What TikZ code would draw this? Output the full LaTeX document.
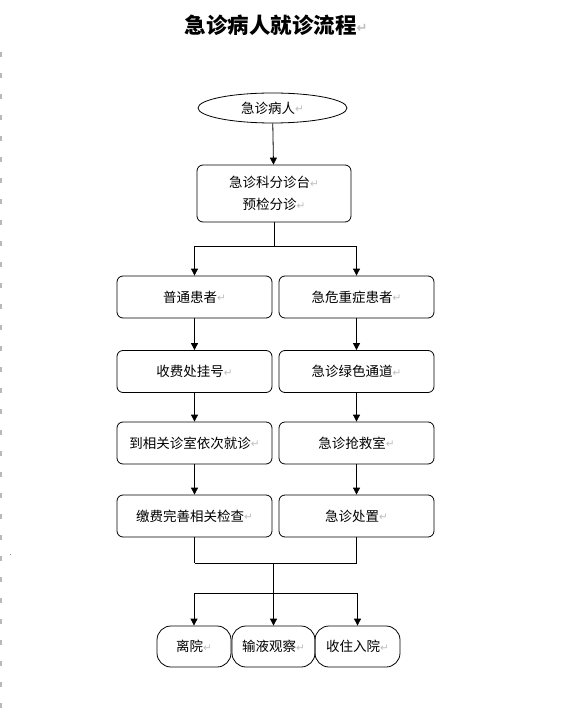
\documentclass[tikz,border=0pt]{standalone}
\usepackage{fontspec}
\newfontfamily\cjk{Noto Sans CJK SC}
\newfontfamily\symfont{DejaVu Sans}
\usetikzlibrary{arrows.meta,shapes.geometric}
\newcommand{\pmark}{\raisebox{0.5pt}{\symfont\fontsize{10.5}{10.5}\selectfont\color{gray!50}↵}}
\newcommand{\tmark}{\raisebox{1pt}{\symfont\fontsize{13}{13}\selectfont\color{gray!50}↵}}
\begin{document}
\begin{tikzpicture}[x=1pt,y=-1pt,
  line width=0.8pt,
  arr/.style={-{Triangle[length=7pt,width=7pt]}},
  txt/.style={font=\cjk\fontsize{13.5}{22}\selectfont},
  box/.style={txt,draw,rounded corners=6pt,minimum width=155pt,minimum height=42pt,inner sep=0pt,align=center},
  endbox/.style={txt,draw,rounded corners=14pt,minimum height=41pt,inner sep=0pt}]
\useasboundingbox[fill=white] (0,0) rectangle (571,711);
% page margin marks
\draw[gray!55,line width=1.2pt,dash pattern=on 5pt off 16pt] (1,52) -- (1,711);
\fill[gray!80] (9.5,553.5) rectangle (11,555);
% title
\node[font=\cjk\bfseries\fontsize{21.5}{21.5}\selectfont] (title) at (276,25) {急诊病人就诊流程\tmark};
% nodes
\node[txt,draw,ellipse,minimum width=149pt,minimum height=30pt,inner sep=0pt] (start) at (272.5,108) {急诊病人\pmark};
\node[box,minimum width=154pt,minimum height=57pt] (triage) at (274,193.5) {急诊科分诊台\pmark\\预检分诊\pmark};
\node[box] (a1) at (194.5,297) {普通患者\pmark};
\node[box] (b1) at (356.5,297) {急危重症患者\pmark};
\node[box] (a2) at (194.5,371.5) {收费处挂号\pmark};
\node[box] (b2) at (356.5,371.5) {急诊绿色通道\pmark};
\node[box] (a3) at (194.5,443) {到相关诊室依次就诊\pmark};
\node[box] (b3) at (356.5,443) {急诊抢救室\pmark};
\node[box] (a4) at (194.5,516) {缴费完善相关检查\pmark};
\node[box] (b4) at (356.5,516) {急诊处置\pmark};
\node[endbox,minimum width=74pt] (c1) at (194,646.5) {离院\pmark};
\node[endbox,minimum width=83pt] (c2) at (273.5,646.5) {输液观察\pmark};
\node[endbox,minimum width=85pt] (c3) at (357.5,646.5) {收住入院\pmark};
% connectors
\draw[arr] (start) -- (triage);
\draw (triage.south) -- ++(0,24) coordinate (j1);
\draw[arr] (j1) -| (a1.north);
\draw[arr] (j1) -| (b1.north);
\draw[arr] (a1) -- (a2);
\draw[arr] (a2) -- (a3);
\draw[arr] (a3) -- (a4);
\draw[arr] (b1) -- (b2);
\draw[arr] (b2) -- (b3);
\draw[arr] (b3) -- (b4);
\draw (a4.south) -- ++(0,26) coordinate (ja);
\draw (b4.south) -- ++(0,26) coordinate (jb);
\draw (ja) -- (jb);
\coordinate (jm) at (c2.north |- ja);
\draw[arr] (jm) -- (c2.north);
\coordinate (h1) at (c1.north |- 0,593);
\coordinate (h3) at (c3.north |- 0,593);
\draw (h1) -- (h3);
\draw[arr] (h1) -- (c1.north);
\draw[arr] (h3) -- (c3.north);
\end{tikzpicture}
\end{document}
